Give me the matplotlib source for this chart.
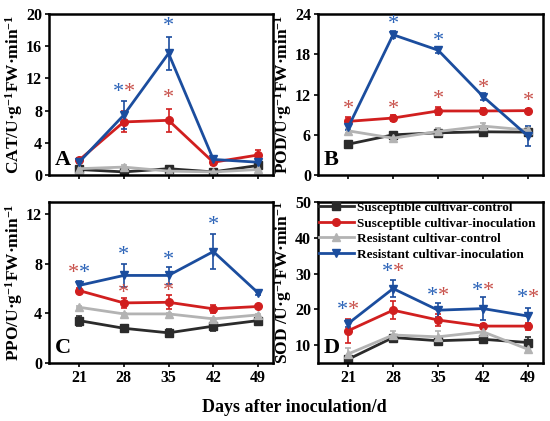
import numpy as np
import matplotlib
matplotlib.use('Agg')
import matplotlib.pyplot as plt
from matplotlib.lines import Line2D

plt.rcParams['font.family'] = ['Liberation Serif', 'DejaVu Serif']
plt.rcParams['font.weight'] = 'bold'
plt.rcParams['mathtext.fontset'] = 'custom'
plt.rcParams['mathtext.rm'] = 'Liberation Serif:bold'
plt.rcParams['mathtext.bf'] = 'Liberation Serif:bold'
plt.rcParams['mathtext.it'] = 'Liberation Serif:bold'

days = [21, 28, 35, 42, 49]
series_names = ['Susceptible cultivar-control', 'Susceptible cultivar-inoculation',
                'Resistant cultivar-control', 'Resistant cultivar-inoculation']

# CAT
cat_mean = [[0.7, 0.4, 0.8, 0.4, 1.2],
            [1.85, 6.6, 6.8, 1.6, 2.5],
            [0.8, 1.0, 0.5, 0.4, 0.7],
            [1.6, 7.45, 15.1, 1.95, 1.6]]
cat_err = [[0.2, 0.2, 0.2, 0.2, 0.2],
           [0.3, 1.3, 1.4, 0.3, 0.6],
           [0.2, 0.3, 0.2, 0.2, 0.2],
           [0.5, 1.7, 2.0, 0.4, 0.3]]
# POD
pod_mean = [[4.6, 6.0, 6.3, 6.45, 6.4],
            [8.0, 8.5, 9.55, 9.55, 9.6],
            [6.6, 5.5, 6.5, 7.3, 6.7],
            [7.1, 20.9, 18.6, 11.7, 5.8]]
pod_err = [[0.4, 0.3, 0.3, 0.3, 0.3],
           [0.6, 0.5, 0.6, 0.5, 0.3],
           [0.3, 0.6, 0.5, 0.5, 0.5],
           [0.4, 0.5, 0.4, 0.5, 1.5]]
# PPO
ppo_mean = [[3.42, 2.8, 2.43, 2.97, 3.42],
            [5.85, 4.85, 4.9, 4.37, 4.56],
            [4.5, 3.96, 3.96, 3.56, 3.88],
            [6.26, 7.07, 7.07, 9.0, 5.66]]
ppo_err = [[0.4, 0.25, 0.3, 0.4, 0.2],
           [0.2, 0.4, 0.55, 0.3, 0.15],
           [0.1, 0.1, 0.1, 0.1, 0.1],
           [0.35, 0.9, 0.67, 1.4, 0.2]]
# SOD
sod_mean = [[6.0, 12.1, 11.2, 11.6, 10.7],
            [14.0, 19.75, 17.0, 15.3, 15.3],
            [7.5, 12.8, 12.3, 13.7, 8.8],
            [16.0, 25.8, 19.75, 20.2, 18.1]]
sod_err = [[1.0, 0.8, 0.6, 0.7, 1.5],
           [3.4, 2.6, 1.8, 0.7, 1.0],
           [1.8, 1.2, 1.5, 0.8, 0.5],
           [1.0, 2.3, 2.0, 3.3, 2.4]]

# significance stars: (day, height, colour key, side: -1 left, 0 centre, 1 right)
cat_stars = [(28, 10.3, 'b', -1), (28, 10.3, 'r', 1), (35, 18.4, 'b', 0), (35, 9.5, 'r', 0)]
pod_stars = [(21, 9.8, 'r', 0), (28, 9.8, 'r', 0), (35, 11.2, 'r', 0), (42, 12.9, 'r', 0),
             (49, 10.9, 'r', 0), (28, 22.4, 'b', 0), (35, 19.9, 'b', 0)]
ppo_stars = [(21, 7.2, 'r', -1), (21, 7.2, 'b', 1), (28, 8.7, 'b', 0), (28, 5.6, 'r', 0),
             (35, 8.3, 'b', 0), (35, 5.8, 'r', 0), (42, 11.1, 'b', 0)]
sod_star_h = [19.75, 30.4, 23.5, 25.1, 23.0]
sod_stars = [(d, h, k, s) for d, h in zip(days, sod_star_h) for k, s in (('b', -1), ('r', 1))]

colors = ['#2b2b2b', '#d11f1f', '#b3b3b3', '#1b4d9e']
markers = ['s', 'o', '^', 'v']
star_col = {'b': '#2a62b8', 'r': '#c8504a'}

fig = plt.figure(figsize=(5.5, 4.21), dpi=100)
pos = [[0.089, 0.584, 0.407, 0.383], [0.578, 0.584, 0.409, 0.383],
       [0.089, 0.138, 0.407, 0.382], [0.578, 0.138, 0.409, 0.382]]

unit = 'U·g$^{-1}$FW·min$^{-1}$'
panels = [
    ('A', cat_mean, cat_err, cat_stars, (0, 20), [0, 4, 8, 12, 16, 20], 'CAT/' + unit, -0.105),
    ('B', pod_mean, pod_err, pod_stars, (0, 24), [0, 6, 12, 18, 24], 'POD/' + unit, -0.105),
    ('C', ppo_mean, ppo_err, ppo_stars, (0, 13), [0, 4, 8, 12], 'PPO/' + unit, -0.105),
    ('D', sod_mean, sod_err, sod_stars, (5, 50), [10, 20, 30, 40, 50], 'SOD /' + unit, -0.105),
]

for i, (letter, means, errs, stars, ylim, yt, ylab, lx) in enumerate(panels):
    ax = fig.add_axes(pos[i])
    for k in range(4):
        ax.errorbar(days, means[k], yerr=errs[k], color=colors[k], marker=markers[k],
                    ms=5.5, lw=2, elinewidth=1.2, capsize=2.5, capthick=1.2)
    for d, h, key, side in stars:
        ax.text(d + 0.9 * side, h, '*', color=star_col[key], fontsize=16,
                ha='center', va='center', fontweight='normal')
    ax.set_xlim(16.3, 51.3)
    ax.set_ylim(*ylim)
    ax.set_yticks(yt)
    ax.set_xticks(days)
    if i < 2:
        ax.set_xticklabels([])
    ax.tick_params(direction='out', length=3, width=1.2, labelsize=11.5, pad=2)
    for lab in ax.get_xticklabels() + ax.get_yticklabels():
        lab.set_fontweight('bold')
    for s in ax.spines.values():
        s.set_linewidth(1.8)
    ax.set_ylabel(ylab, fontsize=12.5, fontweight='bold')
    ax.yaxis.set_label_coords(lx, 0.5)
    ax.text(0.025, 0.03, letter, transform=ax.transAxes, fontsize=16,
            fontweight='bold', ha='left', va='bottom')
    if letter == 'D':
        handles = [Line2D([], [], color=colors[k], marker=markers[k], ms=5.5, lw=2)
                   for k in range(4)]
        ax.legend(handles, series_names, loc='upper left', bbox_to_anchor=(0.0, 1.01),
                  borderaxespad=0.0, frameon=False, fontsize=9.5, handlelength=2.6,
                  handletextpad=0.3, labelspacing=0.25, borderpad=0.1)

fig.text(0.536, 0.033, 'Days after inoculation/d', ha='center', va='center',
         fontsize=13, fontweight='bold')

plt.savefig('out.png', dpi=100)
